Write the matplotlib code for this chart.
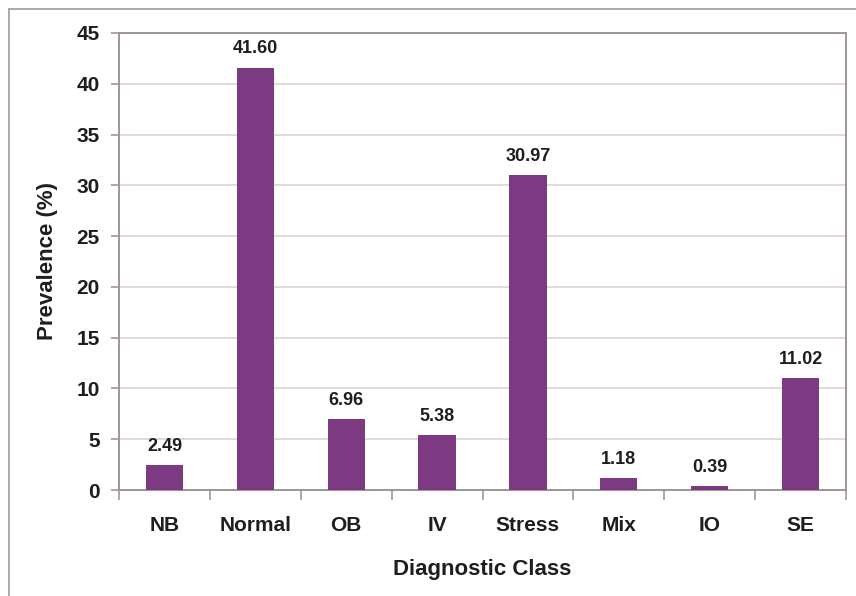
import matplotlib
matplotlib.use("Agg")
import matplotlib.pyplot as plt
from matplotlib.lines import Line2D

plt.rcParams['font.family'] = ['Liberation Sans', 'DejaVu Sans']

categories = ["NB", "Normal", "OB", "IV", "Stress", "Mix", "IO", "SE"]
prevalence = [2.49, 41.60, 6.96, 5.38, 30.97, 1.18, 0.39, 11.02]
yticks = [0, 5, 10, 15, 20, 25, 30, 35, 40, 45]

bar_color = "#7b3a82"
spine_color = "#a09690"
grid_color = "#ddd3ce"
text_color = "#1e1e1e"

fig = plt.figure(figsize=(8.56, 5.96), dpi=100)
ax = fig.add_axes([119 / 856, 1 - 490 / 596, (846 - 119) / 856, (490 - 33) / 596])

x = list(range(len(categories)))
bars = ax.bar(x, prevalence, width=0.41, color=bar_color, zorder=3)

for xi, v in zip(x, prevalence):
    ax.text(xi, v + 1.0, f"{v:.2f}", ha="center", va="bottom",
            fontsize=13, fontweight="bold", color=text_color)

ax.set_xlim(-0.5, len(categories) - 0.5)
ax.set_ylim(0, 45)
ax.set_yticks(yticks)
ax.set_yticklabels([str(t) for t in yticks], fontsize=15, fontweight="bold", color=text_color)
ax.set_xticks(x)
ax.set_xticklabels(categories, fontsize=15, fontweight="bold", color=text_color)
ax.tick_params(axis="x", length=0, pad=19)
ax.tick_params(axis="y", length=6, width=1.2, color=spine_color, direction="out", pad=8)

# separators between categories on the x axis
for b in [i + 0.5 for i in range(-1, len(categories))]:
    ax.plot([b, b], [0, -0.9], color=spine_color, lw=1.2, clip_on=False, zorder=4)

ax.yaxis.grid(True, color=grid_color, lw=1.2, zorder=0)
ax.set_axisbelow(True)
for s in ax.spines.values():
    s.set_color(spine_color)
    s.set_linewidth(1.4)

ax.set_xlabel("Diagnostic Class", fontsize=16, fontweight="bold", color=text_color, labelpad=17)
ax.set_ylabel("Prevalence (%)", fontsize=16, fontweight="bold", color=text_color, labelpad=13)

# outer chart frame
fig.add_artist(Line2D([9 / 856, 9 / 856], [0, 1 - 9 / 596], transform=fig.transFigure,
                      color="#b0a8a4", lw=1.4))
fig.add_artist(Line2D([9 / 856, 1], [1 - 9 / 596, 1 - 9 / 596], transform=fig.transFigure,
                      color="#b0a8a4", lw=1.4))

fig.savefig("out.png", dpi=100, facecolor="white")
